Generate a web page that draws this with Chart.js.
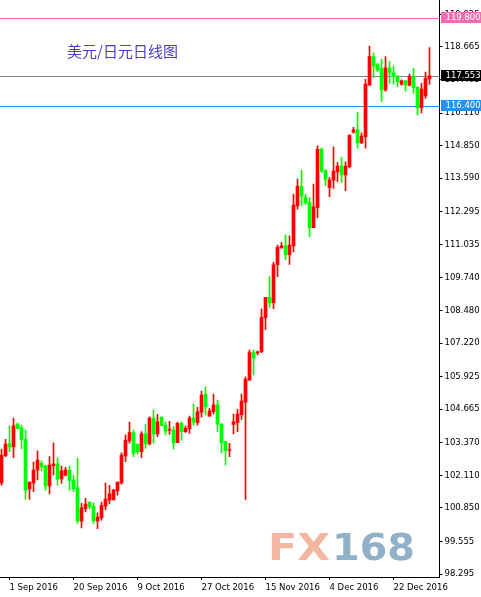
<!DOCTYPE html>
<html>
<head>
<meta charset="utf-8">
<title>美元/日元日线图</title>
<script src="https://cdn.jsdelivr.net/npm/chart.js@4.4.1/dist/chart.umd.min.js"></script>
<style>
  html, body { margin: 0; padding: 0; background: #fff; }
  canvas { display: block; }
</style>
</head>
<body>
<canvas id="chart" width="481" height="597"></canvas>
<script>
const title = "美元/日元日线图";

const opens = [
  101.82, 102.87, 103.33, 103.21, 104.09, 103.95, 103.51, 101.58, 101.82, 102.31,
  102.57, 102.48, 101.70, 102.48, 102.55, 101.97, 102.12, 102.31, 101.93, 101.63,
  100.34, 100.82, 101.08, 100.92, 100.35, 100.46, 100.92, 101.16, 101.16, 101.51,
  101.82, 102.86, 103.45, 103.76, 103.32, 103.02, 103.71, 103.32, 104.32, 103.71,
  104.36, 104.05, 103.85, 103.86, 103.37, 104.12, 103.80, 103.90, 104.32, 104.14,
  104.54, 105.25, 104.40, 104.57, 104.83, 104.08, 103.41, 103.07, 104.07, 104.14,
  104.45, 104.94, 105.79, 106.85, 106.84, 106.89, 108.20, 108.99, 108.78, 110.25,
  110.91, 110.98, 110.64, 110.98, 112.52, 113.29, 112.84, 112.67, 111.68, 112.45,
  114.71, 113.91, 113.23, 113.52, 113.84, 114.06, 113.72, 114.04, 115.37, 115.46,
  114.96, 115.20, 117.19, 118.29, 117.97, 117.84, 117.00, 117.86, 117.67, 117.54,
  117.23, 117.36, 117.19, 117.52, 117.11, 116.32, 116.77, 117.43
];
const highs = [
  103.12, 103.50, 104.02, 104.32, 104.13, 104.05, 103.86, 101.85, 102.62, 103.06,
  102.67, 102.51, 102.83, 103.37, 102.79, 102.47, 102.42, 102.47, 102.12, 102.78,
  101.03, 101.22, 101.08, 101.05, 100.66, 101.08, 101.81, 101.72, 101.57, 101.85,
  102.98, 103.67, 104.17, 103.86, 103.32, 103.80, 104.09, 104.37, 104.63, 104.47,
  104.36, 104.18, 104.20, 103.99, 104.17, 104.18, 104.02, 104.40, 104.87, 104.74,
  105.37, 105.53, 104.70, 105.25, 105.02, 104.12, 103.43, 103.35, 104.48, 104.66,
  105.25, 105.92, 106.95, 106.95, 106.91, 108.54, 108.99, 109.79, 110.34, 111.01,
  111.11, 111.40, 111.37, 112.98, 113.56, 113.91, 112.97, 112.84, 113.37, 114.84,
  114.77, 113.91, 113.63, 114.81, 114.21, 114.40, 114.23, 115.26, 115.56, 116.15,
  115.35, 117.41, 118.70, 118.44, 118.03, 118.19, 118.29, 118.10, 117.93, 117.55,
  117.39, 117.36, 117.62, 117.84, 117.11, 117.26, 117.69, 118.64
];
const lows = [
  101.73, 102.83, 103.02, 102.79, 103.91, 103.14, 101.19, 101.18, 101.48, 101.93,
  102.28, 101.54, 101.39, 102.13, 101.73, 101.80, 102.09, 101.54, 101.48, 100.25,
  100.08, 100.70, 100.81, 100.25, 100.05, 100.38, 100.77, 101.00, 101.16, 101.34,
  101.77, 102.64, 103.35, 102.83, 102.93, 102.79, 103.15, 103.28, 103.35, 103.60,
  104.03, 103.67, 103.69, 103.13, 103.37, 103.47, 103.77, 103.73, 104.05, 104.05,
  104.37, 104.44, 104.40, 104.48, 103.80, 102.98, 102.51, 102.83, 103.71, 103.80,
  104.27, 101.18, 105.79, 105.99, 106.76, 106.85, 107.75, 108.60, 108.55, 109.79,
  110.88, 110.44, 110.26, 110.74, 112.40, 112.52, 112.58, 111.33, 111.68, 112.07,
  113.81, 113.30, 112.88, 113.20, 113.46, 113.43, 113.11, 113.99, 115.33, 114.75,
  114.94, 114.75, 117.19, 117.48, 117.71, 116.55, 116.96, 117.26, 117.23, 117.13,
  117.19, 116.96, 117.16, 116.87, 116.04, 116.12, 116.68, 117.22
];
const closes = [
  102.89, 103.32, 103.21, 104.02, 103.91, 103.50, 101.54, 101.85, 102.31, 102.70,
  102.44, 101.70, 102.51, 102.55, 101.96, 102.28, 102.31, 101.90, 101.58, 100.35,
  100.85, 101.00, 100.90, 100.35, 100.50, 100.95, 101.19, 101.39, 101.54, 101.85,
  102.89, 103.47, 103.76, 102.96, 103.02, 103.71, 103.32, 104.32, 103.71, 104.18,
  104.03, 103.82, 103.86, 103.37, 104.12, 103.80, 103.93, 104.32, 104.16, 104.56,
  105.21, 104.76, 104.60, 104.83, 104.08, 103.37, 103.06, 103.09, 104.18, 104.48,
  104.98, 105.83, 106.85, 106.65, 106.86, 108.22, 108.99, 108.78, 110.24, 110.92,
  110.98, 110.64, 111.01, 112.55, 113.29, 112.90, 112.65, 111.68, 112.49, 114.71,
  113.87, 113.55, 113.52, 113.87, 114.06, 113.72, 114.06, 115.26, 115.46, 114.96,
  115.22, 117.23, 118.29, 117.93, 117.77, 117.00, 117.86, 117.65, 117.52, 117.32,
  117.36, 117.19, 117.52, 117.09, 116.32, 117.04, 117.45, 117.55
];

const tickLabels = ["1 Sep 2016", "20 Sep 2016", "9 Oct 2016", "27 Oct 2016", "15 Nov 2016", "4 Dec 2016", "22 Dec 2016"];
const yTicks = [119.925, 118.665, 117.405, 116.110, 114.850, 113.590, 112.295, 111.035, 109.740,
  108.480, 107.220, 105.925, 104.665, 103.370, 102.110, 100.850, 99.555, 98.295];

const levels = [119.800, 117.553, 116.400];
const levelLines = ["#f070b0", "#7c8590", "#2f8ae8"];
const levelBoxes = ["#f06eb0", "#000000", "#2590f0"];

// daily bars, Saturdays skipped (the feed has Sunday bars)
const monthNames = ["Jan", "Feb", "Mar", "Apr", "May", "Jun", "Jul", "Aug", "Sep", "Oct", "Nov", "Dec"];
const days = [];
const d = new Date(2016, 7, 30);
while (days.length < 110) {
  if (d.getDay() !== 6) days.push(d.getDate() + " " + monthNames[d.getMonth()] + " " + d.getFullYear());
  d.setDate(d.getDate() + 1);
}

const UP = "#ff0000";
const DOWN = "#00ff00";
const colors = opens.map((o, i) => closes[i] >= o ? UP : DOWN);
const wicks = opens.map((o, i) => ({ x: i, y: [lows[i], highs[i]] }));
const bodies = opens.map((o, i) => ({ x: i, y: [Math.min(o, closes[i]), Math.max(o, closes[i])] }));

const tickFont = { family: "'DejaVu Sans', Tahoma, sans-serif", size: 8.5 };
const tickFontCss = "8.5px 'DejaVu Sans', Tahoma, sans-serif";

function stretchText(ctx, text, x, base, w, color) {
  const m = ctx.measureText(text).width;
  ctx.save();
  ctx.translate(x, base);
  ctx.scale(w / m, 1);
  ctx.fillStyle = color;
  ctx.fillText(text, 0, 0);
  ctx.restore();
}

const overlay = {
  id: "overlay",
  beforeDatasetsDraw(chart) {
    const { ctx, chartArea, scales: { y } } = chart;
    ctx.save();

    ctx.fillStyle = "#4a3cc8";
    ctx.font = "15px 'Noto Sans CJK SC', sans-serif";
    ctx.textBaseline = "middle";
    ctx.textAlign = "left";
    ctx.fillText(title, 67, 51);

    // FX168 watermark
    ctx.font = "bold 37px 'DejaVu Sans', sans-serif";
    ctx.textBaseline = "alphabetic";
    stretchText(ctx, "FX", 268, 560, 62, "#f4b6a0");
    stretchText(ctx, "168", 332, 560, 83, "#91b1c8");

    levels.forEach((lv, i) => {
      const py = Math.round(y.getPixelForValue(lv)) + 0.5;
      ctx.strokeStyle = levelLines[i];
      ctx.lineWidth = 1;
      ctx.beginPath();
      ctx.moveTo(chartArea.left, py);
      ctx.lineTo(chartArea.right, py);
      ctx.stroke();
    });
    ctx.restore();
  },
  afterDraw(chart) {
    const { ctx, scales: { y } } = chart;
    ctx.save();
    ctx.font = tickFontCss;
    ctx.textBaseline = "middle";
    ctx.textAlign = "left";
    levels.forEach((lv, i) => {
      const py = Math.round(y.getPixelForValue(lv));
      ctx.fillStyle = levelBoxes[i];
      ctx.fillRect(Math.ceil(y.left) + 1, py - 6, chart.width - y.left, 11);
      ctx.fillStyle = "#ffffff";
      ctx.fillText(lv.toFixed(3), y.left + 6, py);
    });
    ctx.restore();
  }
};

new Chart(document.getElementById("chart"), {
  type: "bar",
  data: {
    datasets: [
      { label: "wick", data: wicks, backgroundColor: colors, barThickness: 1, grouped: false, order: 2 },
      { label: "body", data: bodies, backgroundColor: colors, barThickness: 3, minBarLength: 1, grouped: false, order: 1 }
    ]
  },
  options: {
    responsive: false,
    animation: false,
    devicePixelRatio: 1,
    events: [],
    layout: { padding: 0 },
    plugins: { legend: { display: false }, tooltip: { enabled: false } },
    scales: {
      x: {
        type: "linear",
        offset: false,
        min: -0.375,
        max: 109.5,
        afterBuildTicks(scale) {
          scale.ticks = tickLabels.map(t => ({ value: days.indexOf(t) }));
        },
        afterFit(scale) {
          scale.height = 20;
          scale.paddingLeft = 0;
          scale.paddingRight = 0;
        },
        ticks: {
          callback: v => days[v],
          autoSkip: false,
          maxRotation: 0,
          minRotation: 0,
          align: "start",
          padding: 3,
          color: "#000",
          font: tickFont
        },
        grid: { drawOnChartArea: false, offset: false, tickLength: 3, color: "#000" },
        border: { color: "#000" }
      },
      y: {
        position: "right",
        min: 98.18,
        max: 120.48,
        afterBuildTicks(scale) {
          scale.ticks = yTicks.map(value => ({ value }));
        },
        afterFit(scale) {
          scale.width = 41.5;
          scale.paddingTop = 0;
          scale.paddingBottom = 0;
        },
        ticks: {
          callback: v => v.toFixed(3),
          padding: 2,
          color: "#000",
          font: tickFont
        },
        grid: { drawOnChartArea: false, tickLength: 3, color: "#000" },
        border: { color: "#000" }
      }
    }
  },
  plugins: [overlay]
});
</script>
</body>
</html>
